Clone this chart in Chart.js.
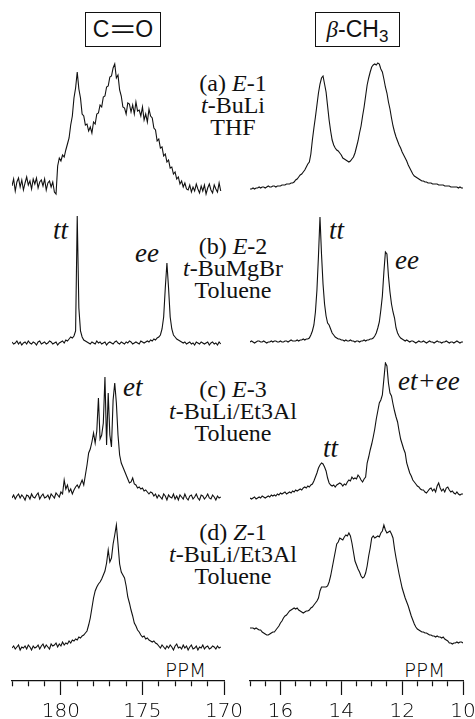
<!DOCTYPE html>
<html>
<head>
<meta charset="utf-8">
<title>13C NMR spectra</title>
<script src="https://cdn.jsdelivr.net/npm/chart.js@4.4.1/dist/chart.umd.min.js"></script>
<style>
  html, body { margin: 0; padding: 0; background: #fff; }
  #fig { position: relative; width: 475px; height: 719px; overflow: hidden; }
  #fig canvas { position: absolute; }
  .box { position: absolute; border: 1.5px solid #111; box-sizing: border-box; font-family: 'Liberation Sans', Arial, sans-serif; font-size: 23px; color: #111; text-align: center; line-height: 32px; }
  .cond { position: absolute; left: 143px; width: 180px; text-align: center; font-family: 'Liberation Serif', serif; font-size: 24px; line-height: 22px; color: #111; }
  .tag { position: absolute; font-family: 'Liberation Serif', serif; font-style: italic; font-size: 27px; line-height: 28px; color: #111; white-space: nowrap; }
  .ppm { position: absolute; font-family: 'DejaVu Sans', sans-serif; font-weight: 200; font-size: 20px; line-height: 20px; color: #000; }
  i { font-style: italic; }
</style>
</head>
<body>
<div id="fig">
  <div class="box" style="left:85px;top:12px;width:76px;height:35px;">C<span style="display:inline-block;width:26px;"><span style="display:inline-block;transform:scaleX(1.9);">=</span></span>O</div>
  <div class="box" style="left:315px;top:12px;width:85px;height:35px;"><span style="font-family:'Liberation Serif',serif;font-style:italic;">β</span>-CH<sub style="font-size:17px;line-height:0;vertical-align:-5px;">3</sub></div>

  <div class="cond" style="top:72px;">(a) <i>E</i>-1<br><i>t</i>-BuLi<br>THF</div>
  <div class="cond" style="top:235px;">(b) <i>E</i>-2<br><i>t</i>-BuMgBr<br>Toluene</div>
  <div class="cond" style="top:378px;">(c) <i>E</i>-3<br><i>t</i>-BuLi/Et3Al<br>Toluene</div>
  <div class="cond" style="top:521px;">(d) <i>Z</i>-1<br><i>t</i>-BuLi/Et3Al<br>Toluene</div>

  <div class="tag" style="left:53px;top:216px;">tt</div>
  <div class="tag" style="left:135px;top:239px;">ee</div>
  <div class="tag" style="left:329px;top:216px;">tt</div>
  <div class="tag" style="left:395px;top:246px;">ee</div>
  <div class="tag" style="left:123px;top:373px;">et</div>
  <div class="tag" style="left:323px;top:434px;">tt</div>
  <div class="tag" style="left:398px;top:367px;">et+ee</div>

  <div class="ppm" style="left:165px;top:660px;">PPM</div>
  <div class="ppm" style="left:404px;top:660px;">PPM</div>
</div>

<script>
// shift grids (ppm) for the two columns
const coPpm = [
  183.0, 182.9, 182.8, 182.7, 182.6, 182.5, 182.4, 182.3, 182.2, 182.1,
  182.0, 181.9, 181.8, 181.7, 181.6, 181.5, 181.4, 181.3, 181.2, 181.1,
  181.0, 180.9, 180.8, 180.7, 180.6, 180.5, 180.4, 180.3, 180.2, 180.1,
  180.0, 179.9, 179.8, 179.7, 179.6, 179.5, 179.4, 179.3, 179.2, 179.1,
  179.0, 178.9, 178.8, 178.7, 178.6, 178.5, 178.4, 178.3, 178.2, 178.1,
  178.0, 177.9, 177.8, 177.7, 177.6, 177.5, 177.4, 177.3, 177.2, 177.1,
  177.0, 176.9, 176.8, 176.7, 176.6, 176.5, 176.4, 176.3, 176.2, 176.1,
  176.0, 175.9, 175.8, 175.7, 175.6, 175.5, 175.4, 175.3, 175.2, 175.1,
  175.0, 174.9, 174.8, 174.7, 174.6, 174.5, 174.4, 174.3, 174.2, 174.1,
  174.0, 173.9, 173.8, 173.7, 173.6, 173.5, 173.4, 173.3, 173.2, 173.1,
  173.0, 172.9, 172.8, 172.7, 172.6, 172.5, 172.4, 172.3, 172.2, 172.1,
  172.0, 171.9, 171.8, 171.7, 171.6, 171.5, 171.4, 171.3, 171.2, 171.1,
  171.0, 170.9, 170.8, 170.7, 170.6, 170.5, 170.4, 170.3, 170.2
];
const chPpm = [
  17.00, 16.95, 16.90, 16.85, 16.80, 16.75, 16.70, 16.65, 16.60, 16.55, 16.50, 16.45, 16.40, 16.35, 16.30, 16.25, 16.20, 16.15, 16.10, 16.05,
  16.00, 15.95, 15.90, 15.85, 15.80, 15.75, 15.70, 15.65, 15.60, 15.55, 15.50, 15.45, 15.40, 15.35, 15.30, 15.25, 15.20, 15.15, 15.10, 15.05,
  15.00, 14.95, 14.90, 14.85, 14.80, 14.75, 14.70, 14.65, 14.60, 14.55, 14.50, 14.45, 14.40, 14.35, 14.30, 14.25, 14.20, 14.15, 14.10, 14.05,
  14.00, 13.95, 13.90, 13.85, 13.80, 13.75, 13.70, 13.65, 13.60, 13.55, 13.50, 13.45, 13.40, 13.35, 13.30, 13.25, 13.20, 13.15, 13.10, 13.05,
  13.00, 12.95, 12.90, 12.85, 12.80, 12.75, 12.70, 12.65, 12.60, 12.55, 12.50, 12.45, 12.40, 12.35, 12.30, 12.25, 12.20, 12.15, 12.10, 12.05,
  12.00, 11.95, 11.90, 11.85, 11.80, 11.75, 11.70, 11.65, 11.60, 11.55, 11.50, 11.45, 11.40, 11.35, 11.30, 11.25, 11.20, 11.15, 11.10, 11.05,
  11.00, 10.95, 10.90, 10.85, 10.80, 10.75, 10.70, 10.65, 10.60, 10.55, 10.50, 10.45, 10.40, 10.35, 10.30, 10.25, 10.20, 10.15, 10.10, 10.05, 10.00
];

const coLabels = [180, 175, 170];
const chLabels = [16, 14, 12, 10];

// C=O intensities
const coA = [
  2, 9, -3, 6, 10, 1, 8, -2, 5, 11,
  3, 7, -1, 9, 4, 10, 0, 6, 8, 2,
  9, -2, 5, 7, 1, 6, -4, -6, 22, 30,
  27, 33, 31, 38, 44, 50, 63, 72, 90, 100,
  116, 99, 90, 74, 72, 63, 64, 57, 61, 55,
  66, 64, 74, 75, 83, 81, 91, 92, 101, 102,
  111, 112, 120, 124, 110, 113, 98, 92, 81, 80,
  74, 85, 84, 76, 83, 74, 86, 77, 78, 72,
  81, 68, 74, 66, 79, 72, 70, 60, 58, 47,
  49, 40, 41, 32, 34, 26, 28, 20, 21, 14,
  16, 9, 11, 4, 7, 1, 5, -1, -2, 3,
  -4, 1, -3, 4, -1, -5, 2, -3, 3, -6,
  0, 4, -2, -5, 3, -1, -4, 5, -3
];
const coB = [
  1, -1, 0, 2, -1, 1, -2, 0, 1, -1,
  2, 0, -1, 1, 0, -2, 1, 2, -1, 0,
  1, -1, 0, 2, 1, -1, 0, 1, -2, 0,
  1, 2, 0, 3, 2, 4, 6, 5, 7, 12,
  127, 35, 12, 6, 3, 2, 1, 0, -1, 1,
  0, -1, 2, 0, 1, -1, 0, 1, -2, 0,
  1, 0, -1, 1, 2, 0, -1, 1, 0, -1,
  1, 0, 2, 1, -1, 0, 1, 0, -1, 2,
  1, 0, 1, 2, 1, 3, 2, 4, 3, 5,
  6, 8, 14, 26, 55, 80, 55, 26, 14, 8,
  6, 4, 3, 2, 1, 0, 1, -1, 0, 1,
  -1, 0, -2, 1, 0, -1, 1, 0, -1, 0,
  1, -2, 0, 1, -1, 0, -2, 1, -1
];
const coC = [
  -1, 2, -2, 1, 3, -1, 2, 0, -3, 2,
  1, -2, 3, 0, -1, 2, 4, -2, 1, 3,
  -1, 0, 2, -2, 3, 1, -1, 4, 2, 0,
  5, 3, 17, 8, 12, 5, 8, 3, 7, 10,
  12, 9, 13, 17, 12, 22, 32, 44, 48, 55,
  64, 54, 66, 99, 58, 62, 74, 120, 52, 104,
  62, 50, 97, 114, 94, 62, 42, 34, 30, 26,
  22, 18, 14, 15, 19, 13, 12, 9, 10, 8,
  9, 6, 7, 5, 3, 5, 4, 1, 3, -1,
  2, 0, -2, 3, 1, -3, 2, 0, -1, 3,
  -2, 1, -3, 2, 0, -2, 3, -1, -3, 1,
  2, -2, 0, 3, -1, -3, 2, 1, -2, 0,
  3, -1, -2, 2, 0, -3, 1, -1, 0
];
const coD = [
  0, 2, -1, 1, 3, -2, 1, 0, 2, -1,
  3, 1, -2, 2, 0, 1, 3, -1, 2, 4,
  0, 3, 1, -1, 4, 2, 3, 5, 1, 4,
  2, 6, 3, 5, 4, 7, 5, 8, 7, 9,
  8, 11, 10, 12, 13, 15, 17, 23, 30, 40,
  50, 57, 61, 64, 66, 69, 73, 77, 85, 98,
  86, 90, 104, 113, 123, 104, 84, 76, 73, 70,
  62, 51, 45, 38, 32, 25, 22, 18, 16, 13,
  11, 12, 9, 10, 8, 7, 6, 7, 5, 4,
  2, 0, 3, 1, -1, 2, 0, 3, 1, -2,
  2, 4, 0, 1, -1, 3, 0, 2, -2, 1,
  3, -1, 0, 2, -2, 1, 0, 3, -1, 1,
  2, -1, 0, 2, 1, -1, 2, 0, 1
];

// beta-CH3 intensities
const chA = [
  -1, -1, 0, -1, 0, 0, 1, 0, 1, 1, 0, 1, 2, 1, 1, 2, 2, 1, 2, 2,
  2, 3, 3, 3, 4, 4, 4, 5, 5, 6, 8, 9, 11, 13, 14, 16, 18, 21, 24, 26,
  34, 48, 60, 71, 83, 95, 104, 110, 112, 104, 96, 82, 68, 57, 48, 43, 40, 38, 37, 35,
  33, 30, 29, 28, 27, 26, 27, 29, 31, 35, 41, 47, 55, 62, 72, 81, 92, 103, 110, 116,
  121, 123, 124, 123, 125, 124, 119, 116, 109, 101, 95, 86, 79, 70, 62, 56, 51, 47, 43, 40,
  36, 33, 30, 27, 23, 20, 17, 14, 12, 11, 10, 9, 8, 7, 7, 6, 6, 5, 5, 5,
  4, 4, 4, 4, 3, 3, 3, 3, 2, 2, 2, 2, 1, 1, 1, 1, 1, 0, 1, 0, 0
];
const chB = [
  0, 1, 0, -1, 0, 1, 1, 0, 0, 1, 0, -1, 0, 0, 1, 0, 1, 1, 0, 0,
  1, 0, 0, 1, 1, 0, 1, 2, 1, 1, 1, 2, 1, 2, 2, 3, 2, 3, 3, 4,
  7, 11, 17, 30, 52, 86, 125, 88, 58, 38, 26, 19, 17, 13, 9, 7, 5, 4, 3, 3,
  2, 2, 1, 2, 1, 1, 2, 1, 1, 0, 1, 1, 0, 1, 1, 2, 1, 2, 2, 3,
  3, 4, 6, 9, 14, 20, 32, 46, 70, 90, 88, 66, 50, 38, 30, 24, 14, 9, 6, 4,
  3, 2, 1, 2, 1, 0, 1, 1, 0, -1, 0, 1, 0, 0, 1, 0, -1, 0, 1, 0,
  0, -1, 0, 1, 0, 0, -1, 0, 0, 1, 0, -1, 0, 0, -1, 0, 1, 0, -1, 0, 0
];
const chC = [
  -1, -2, -1, 0, -2, -1, 0, -1, 1, 0, -1, 0, 1, 0, 2, 1, 2, 1, 3, 2,
  4, 3, 4, 5, 3, 4, 5, 4, 6, 5, 7, 6, 7, 8, 7, 9, 10, 9, 11, 10,
  12, 13, 16, 20, 24, 29, 32, 34, 33, 30, 26, 19, 14, 12, 11, 12, 10, 12, 13, 14,
  13, 11, 13, 12, 15, 17, 16, 20, 18, 19, 18, 22, 20, 17, 15, 18, 20, 34, 40, 47,
  53, 60, 68, 78, 86, 94, 97, 102, 118, 134, 131, 114, 104, 101, 93, 86, 80, 75, 66, 58,
  53, 48, 44, 34, 29, 24, 21, 17, 15, 13, 11, 10, 8, 7, 7, 5, 4, 6, 8, 9,
  6, 8, 5, 11, 14, 9, 6, 8, 5, 9, 10, 7, 5, 6, 4, 3, 5, 3, 2, 3, 3
];
const chD = [
  18, 18, 18, 17, 18, 17, 16, 16, 14, 13, 12, 11, 11, 12, 13, 14, 14, 16, 18, 20,
  23, 25, 28, 30, 31, 33, 35, 36, 37, 38, 37, 38, 36, 35, 34, 33, 34, 35, 35, 36,
  38, 39, 41, 43, 45, 48, 55, 59, 59, 59, 59, 60, 64, 70, 78, 86, 94, 102, 104, 108,
  107, 106, 109, 111, 110, 113, 110, 103, 94, 85, 81, 77, 74, 70, 68, 69, 73, 80, 90, 98,
  108, 110, 108, 109, 110, 109, 113, 115, 121, 116, 113, 114, 115, 112, 108, 97, 88, 80, 72, 65,
  58, 53, 48, 44, 40, 35, 30, 26, 22, 19, 17, 16, 15, 14, 14, 13, 13, 12, 11, 11,
  10, 10, 9, 10, 9, 9, 8, 9, 7, 6, 5, 3, 3, 2, 3, 3, 4, 3, 4, 4, 3
];

// column geometry: chart area spans the ppm range of each axis
const cols = {
  co: { left: 0, width: 245, pad: { left: 12, right: 21 }, min: 170, max: 183, step: 1, labels: coLabels },
  ch: { left: 240, width: 235, pad: { left: 10, right: 12 }, min: 10, max: 17, step: 0.5, labels: chLabels }
};
const AXIS_H = 38;
const fig = document.getElementById('fig');

function spectrum(colKey, ppm, vals, top, yMin, yMax, withAxis) {
  const c = cols[colKey];
  const cv = document.createElement('canvas');
  cv.width = c.width;
  cv.height = withAxis ? (yMax - yMin) + AXIS_H : (yMax - yMin);
  cv.style.left = c.left + 'px';
  cv.style.top = top + 'px';
  fig.appendChild(cv);

  const isMajor = v => c.labels.includes(v);

  const xScale = {
    type: 'linear',
    reverse: true,
    min: c.min,
    max: c.max,
    display: withAxis,
    border: { display: true, color: '#111', width: 1.3 },
    grid: {
      drawOnChartArea: false,
      drawTicks: true,
      tickLength: 14,
      tickColor: '#111',
      tickWidth: 1.2,
      // short marks for the unlabelled ticks
      tickBorderDash: ctx => (ctx.tick && isMajor(ctx.tick.value)) ? [] : [5, 40]
    },
    ticks: {
      stepSize: c.step,
      autoSkip: false,
      maxRotation: 0,
      padding: 5,
      color: '#000',
      font: { family: 'DejaVu Sans', size: 20, weight: '200' },
      callback: v => isMajor(v) ? String(v) : ''
    }
  };
  if (withAxis) {
    xScale.afterFit = s => { s.height = AXIS_H; s.paddingLeft = 0; s.paddingRight = 0; };
  }

  return new Chart(cv.getContext('2d'), {
    type: 'line',
    data: {
      datasets: [{
        data: ppm.map((p, i) => ({ x: p, y: vals[i] })),
        borderColor: '#111',
        borderWidth: 1.1,
        pointRadius: 0,
        tension: 0,
        fill: false
      }]
    },
    options: {
      responsive: false,
      animation: false,
      events: [],
      layout: { padding: { left: c.pad.left, right: c.pad.right, top: 0, bottom: 0 } },
      plugins: { legend: { display: false }, tooltip: { enabled: false } },
      scales: {
        x: xScale,
        y: { display: false, min: yMin, max: yMax }
      }
    }
  });
}

spectrum('co', coPpm, coA, 58, -15, 130, false);
spectrum('ch', chPpm, chA, 58, -15, 130, false);
spectrum('co', coPpm, coB, 208, -15, 135, false);
spectrum('ch', chPpm, chB, 207, -15, 135, false);
spectrum('co', coPpm, coC, 362, -15, 135, false);
spectrum('ch', chPpm, chC, 362, -15, 135, false);
spectrum('co', coPpm, coD, 513, -33, 135, true);
spectrum('ch', chPpm, chD, 511, -35, 135, true);
</script>
</body>
</html>
